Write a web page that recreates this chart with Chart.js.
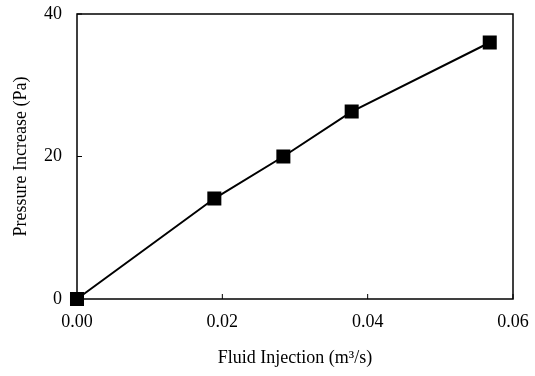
<!DOCTYPE html>
<html>
<head>
<meta charset="utf-8">
<script src="https://cdn.jsdelivr.net/npm/chart.js@4"></script>
<style>
  html, body { margin: 0; padding: 0; background: #fff; }
  #wrap { width: 535px; height: 376px; }
</style>
</head>
<body>
<div id="wrap"><canvas id="pressureChart" width="535" height="376"></canvas></div>
<script>
// values
const injection = [0, 0.0189, 0.0284, 0.0378, 0.0568];
const pressure = [0, 14.1, 20.0, 26.3, 36.0];
const xTicks = [0, 0.02, 0.04, 0.06];
const yTicks = [0, 20, 40];

const points = injection.map((v, i) => ({x: v, y: pressure[i]}));

// box round the plot + little inward tick marks
const framePlugin = {
    id: "frame",
    afterDraw(chart) {
        const {ctx, chartArea, scales} = chart;
        const {top, bottom, left, right} = chartArea;
        ctx.save();
        ctx.strokeStyle = "#000";
        ctx.lineWidth = 1.5;
        ctx.strokeRect(left, top, right - left, bottom - top);
        ctx.lineWidth = 1;
        ctx.beginPath();
        xTicks.forEach(v => {
            const px = scales.x.getPixelForValue(v);
            ctx.moveTo(px, bottom);
            ctx.lineTo(px, bottom - 5);
        });
        yTicks.forEach(v => {
            const py = scales.y.getPixelForValue(v);
            ctx.moveTo(left, py);
            ctx.lineTo(left + 5, py);
        });
        ctx.stroke();
        ctx.restore();
    }
};

const serif = {family: "'Liberation Serif', 'Times New Roman', serif", size: 18};

new Chart(document.getElementById("pressureChart"), {
    type: "scatter",
    data: {
        datasets: [{
            data: points,
            showLine: true,
            borderColor: "#000",
            borderWidth: 2,
            backgroundColor: "#000",
            pointStyle: "rect",
            pointRadius: 8.5,
            pointHoverRadius: 8.5,
            clip: false
        }]
    },
    options: {
        responsive: false,
        animation: false,
        layout: {padding: {top: 14, right: 22, left: 0, bottom: 0}},
        plugins: {
            legend: {display: false},
            tooltip: {enabled: false}
        },
        scales: {
            x: {
                type: "linear",
                min: 0,
                max: 0.06,
                afterBuildTicks: function(scale) {
                    scale.ticks = xTicks.map(v => ({value: v}));
                },
                afterFit: function(scale) {
                    scale.height = 77;
                    scale.paddingLeft = 0;
                    scale.paddingRight = 0;
                },
                grid: {display: false, drawTicks: false},
                border: {display: false},
                ticks: {
                    color: "#000",
                    font: serif,
                    padding: 12,
                    maxRotation: 0,
                    callback: v => v.toFixed(2)
                },
                title: {
                    display: true,
                    text: "Fluid Injection (m³/s)",
                    color: "#000",
                    font: serif,
                    padding: {top: 4, bottom: 7}
                }
            },
            y: {
                type: "linear",
                min: 0,
                max: 40,
                afterBuildTicks: function(scale) {
                    scale.ticks = yTicks.map(v => ({value: v}));
                },
                afterFit: function(scale) {
                    scale.width = 77;
                    scale.paddingTop = 0;
                    scale.paddingBottom = 0;
                },
                grid: {display: false, drawTicks: false},
                border: {display: false},
                ticks: {
                    color: "#000",
                    font: serif,
                    padding: 15
                },
                title: {
                    display: true,
                    text: "Pressure Increase (Pa)",
                    color: "#000",
                    font: serif,
                    padding: {bottom: 0, top: 10}
                }
            }
        }
    },
    plugins: [framePlugin]
});
</script>
</body>
</html>
